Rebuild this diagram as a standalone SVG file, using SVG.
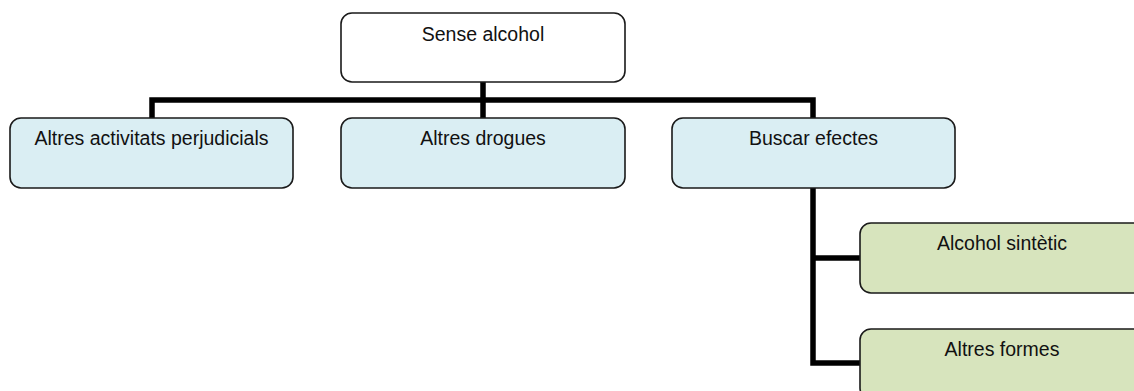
<svg xmlns="http://www.w3.org/2000/svg" width="1134" height="391" viewBox="0 0 1134 391">
<style>
.box{stroke:#1a1a1a;stroke-width:1.6}
.root{fill:#ffffff}
.blue{fill:#DAEEF3}
.green{fill:#D7E4BD}
.t{font-family:"Liberation Sans",Arial,sans-serif;font-size:19.5px;fill:#111;text-anchor:middle}
.c{fill:none;stroke:#000;stroke-width:5.5}
</style>
<g id="connectors">
<path class="c" d="M483 82 V118 M152 118 V100 H813 V118 M813 188 V363 H860 M813 258 H860"/>
</g>
<g id="n0"><rect class="box root" x="341" y="13" width="284" height="69" rx="11"/><text class="t" x="483" y="41">Sense alcohol</text></g>
<g id="n1"><rect class="box blue" x="10" y="118" width="283" height="70" rx="11"/><text class="t" x="151.5" y="145">Altres activitats perjudicials</text></g>
<g id="n2"><rect class="box blue" x="341" y="118" width="284" height="70" rx="11"/><text class="t" x="483" y="145">Altres drogues</text></g>
<g id="n3"><rect class="box blue" x="672" y="118" width="283" height="70" rx="11"/><text class="t" x="813.5" y="145">Buscar efectes</text></g>
<g id="n4"><rect class="box green" x="860" y="223" width="284" height="70" rx="11"/><text class="t" x="1002" y="250">Alcohol sintètic</text></g>
<g id="n5"><rect class="box green" x="860" y="329" width="284" height="70" rx="11"/><text class="t" x="1002" y="356">Altres formes</text></g>
</svg>
